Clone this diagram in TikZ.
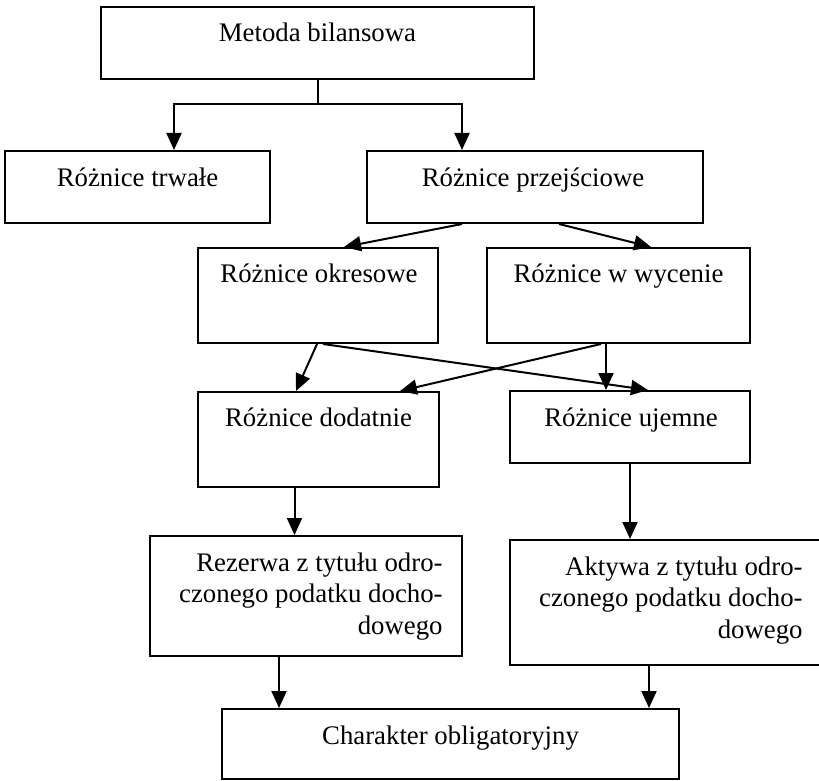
\documentclass[tikz,border=0pt]{standalone}
\usepackage{fontspec}
\setmainfont{Liberation Serif}
\usetikzlibrary{arrows.meta,calc,positioning}

\tikzset{
  box/.style={draw, line width=1pt, inner sep=0pt},
  lbl/.style={font=\fontsize{13.4}{15.8}\selectfont, inner sep=0pt},
  arr/.style={-{Triangle[length=8.5pt,width=7.5pt]}, line width=1pt}
}

\begin{document}
\begin{tikzpicture}[x=0.5pt,y=-0.5pt]
  \useasboundingbox (0,0) rectangle (819,781);
  % boxes
  \node[box, minimum width=216.5pt, minimum height=36pt] (met) at (317.5,43) {};
  \node[box, minimum width=132.5pt, minimum height=36pt] (trw) at (137.5,187) {};
  \node[box, minimum width=168pt, minimum height=36pt] (prz) at (535,187) {};
  \node[box, minimum width=120pt, minimum height=47.5pt] (okr) at (318,295.5) {};
  \node[box, minimum width=131.5pt, minimum height=47.5pt] (wyc) at (618.5,295.5) {};
  \node[box, minimum width=120.5pt, minimum height=47.5pt] (dod) at (318.5,439.5) {};
  \node[box, minimum width=120pt, minimum height=36pt] (uje) at (630,427) {};
  \node[box, minimum width=156pt, minimum height=60pt] (rez) at (306,596) {};
  \node[box, minimum width=157pt, minimum height=62.5pt] (akt) at (667,602.5) {};
  \node[box, minimum width=228.5pt, minimum height=35pt] (cha) at (450.5,744) {};

  % texts
  \node[lbl, anchor=base] (metT) at ($(met.north)+(0,36)$) {Metoda bilansowa};
  \node[lbl, anchor=base] (trwT) at ($(trw.north)+(0,36)$) {Różnice trwałe};
  \node[lbl, anchor=base] (przT) at ($(prz.north)+(-2,36)$) {Różnice przejściowe};
  \node[lbl, anchor=base] (okrT) at ($(okr.north)+(1,35)$) {Różnice okresowe};
  \node[lbl, anchor=base] (wycT) at ($(wyc.north)+(0,35)$) {Różnice w wycenie};
  \node[lbl, anchor=base] (dodT) at ($(dod.north)+(0,35)$) {Różnice dodatnie};
  \node[lbl, anchor=base] (ujeT) at ($(uje.north)+(1,36)$) {Różnice ujemne};
  \node[lbl, anchor=north east, align=right] (rezT) at ($(rez.north east)+(-20,17)$)
    {Rezerwa z tytułu odro-\\czonego podatku docho-\\dowego};
  \node[lbl, anchor=north east, align=right] (aktT) at ($(akt.north east)+(-22,17)$)
    {Aktywa z tytułu odro-\\czonego podatku docho-\\dowego};
  \node[lbl, anchor=base] (chaT) at ($(cha.north)+(0,36)$) {Charakter obligatoryjny};

  % connectors
  \coordinate (split) at ($(met.south)+(0,24)$);
  \draw[line width=1pt] (met.south) -- (split);
  \draw[arr] (split) -| ($(trw.north)+(36.5,0)$);
  \draw[arr] (split) -| ($(prz.north)+(-73,0)$);
  \draw[arr] ($(prz.south)+(-73,0)$) -- ($(okr.north)+(26,0)$);
  \draw[arr] ($(prz.south)+(24,0)$) -- ($(wyc.north)+(32.5,0)$);
  \draw[arr] ($(okr.south)+(-1,0)$) -- ($(dod.north)+(-22.5,0)$);
  \draw[arr] ($(okr.south)+(5,0)$) -- ($(uje.north)+(18,0)$);
  \draw[arr] ($(wyc.south)+(-17.5,0)$) -- ($(dod.north)+(81.5,0)$);
  \draw[arr] ($(wyc.south)+(-12.5,0)$) coordinate (w1) -- (w1 |- uje.north);
  \draw[arr] ($(dod.south)+(-24,0)$) coordinate (d1) -- (d1 |- rez.north);
  \draw[arr] (uje.south) -- (uje.south |- akt.north);
  \draw[arr] ($(rez.south)+(-27,0)$) coordinate (r1) -- (r1 |- cha.north);
  \draw[arr] ($(akt.south)+(-18,0)$) coordinate (a1) -- (a1 |- cha.north);
\end{tikzpicture}
\end{document}
